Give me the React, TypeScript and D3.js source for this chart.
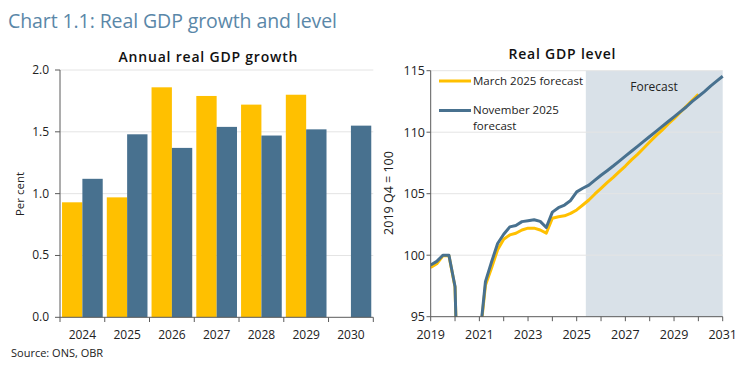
import React from "react";
import * as d3 from "d3";

// ---------- Data ----------
const growthYears = ["2024", "2025", "2026", "2027", "2028", "2029", "2030"];
const growthMarch2025: (number | null)[] = [0.93, 0.97, 1.86, 1.79, 1.72, 1.8, null];
const growthNov2025: number[] = [1.12, 1.48, 1.37, 1.54, 1.47, 1.52, 1.55];
const growthTicks = [0.0, 0.5, 1.0, 1.5, 2.0];

// quarterly GDP level, 2019 Q4 = 100, first point 2019 Q1
const levelStartYear = 2019;
const levelNov2025 = [
  99.2, 99.5, 100.0, 100.0,
  97.45, 79.5, 92.0, 93.2,
  93.0, 97.85, 99.45, 100.95,
  101.7, 102.3, 102.42, 102.73,
  102.8, 102.88, 102.75, 102.25,
  103.5, 103.86, 104.08, 104.45,
  105.15, 105.44, 105.7, 106.1,
  106.5, 106.87, 107.25, 107.65,
  108.05, 108.45, 108.85, 109.25,
  109.65, 110.05, 110.45, 110.85,
  111.25, 111.65, 112.05, 112.5,
  112.9, 113.3, 113.75, 114.15,
  114.55,
];
const levelMarch2025 = [
  99.0, 99.3, 99.95, 99.95,
  97.4, 79.3, 91.8, 93.0,
  92.9, 97.55, 98.95, 100.45,
  101.3, 101.65, 101.78, 102.05,
  102.2, 102.2, 102.05, 101.8,
  103.0, 103.13, 103.2, 103.4,
  103.68, 104.08, 104.49, 104.98,
  105.44, 105.9, 106.33, 106.8,
  107.25, 107.75, 108.2, 108.7,
  109.2, 109.7, 110.15, 110.65,
  111.1, 111.6, 112.1, 112.6,
  113.08,
];
const levelTicks = [95, 100, 105, 110, 115];
const levelYearTicks = [2019, 2020, 2021, 2022, 2023, 2024, 2025, 2026, 2027, 2028, 2029, 2030, 2031];
const levelYearLabels = [2019, 2021, 2023, 2025, 2027, 2029, 2031];
const forecastStart = 2025.375;

// ---------- Style ----------
const YELLOW = "#FFC000";
const BLUE = "#48718F";
const TITLE_BLUE = "#5a87a8";
const SHADE = "#d9e1e8";
const GRID = "#e4e4e4";
const AXIS = "#5a5a5a";
const TEXT = "#222";
const FONT = "'Open Sans', Lato, sans-serif";

export default function App() {
  // Left chart scales
  const lx = d3.scaleBand<string>().domain(growthYears).range([60, 373.3]).paddingInner(0).paddingOuter(0);
  const ly = d3.scaleLinear().domain([0, 2]).range([317.3, 70]);
  const inner = d3.scaleBand<string>().domain(["m", "n"]).range([0, lx.bandwidth()]).paddingOuter(0.1).paddingInner(0);

  // Right chart scales
  const rx = d3.scaleLinear().domain([2019, 2031]).range([430.7, 722.7]);
  const ry = d3.scaleLinear().domain([95, 115]).range([316.7, 70.7]);
  const line = d3
    .line<number>()
    .x((_, i) => rx(levelStartYear + i / 4))
    .y((d) => ry(d));

  return (
    <svg
      width={747}
      height={371}
      style={{ position: "absolute", left: 0, top: 0, background: "#fff" }}
      fontFamily={FONT}
    >
      <defs>
        <clipPath id="rclip">
          <rect x={rx(2019)} y={ry(115) - 3} width={rx(2031) - rx(2019) + 3} height={ry(95) - ry(115) + 3} />
        </clipPath>
      </defs>
      <text x={8} y={28} fontSize={19.5} fill={TITLE_BLUE} textLength={329} lengthAdjust="spacing">
        Chart 1.1: Real GDP growth and level
      </text>

      {/* ---------- Left chart ---------- */}
      <text x={118.5} y={61.5} fontSize={14} fontWeight={600} fill="#111" textLength={179} lengthAdjust="spacing">
        Annual real GDP growth
      </text>
      {growthTicks.map((t) => (
        <g key={"lg" + t}>
          {t > 0 && <line x1={60} x2={373.3} y1={ly(t)} y2={ly(t)} stroke={GRID} strokeWidth={1} />}
          <line x1={55} x2={60} y1={ly(t)} y2={ly(t)} stroke={AXIS} strokeWidth={1} />
          <text x={49} y={ly(t) + 4} fontSize={12} textAnchor="end" fill={TEXT}>
            {t.toFixed(1)}
          </text>
        </g>
      ))}
      {growthYears.map((yr, i) => {
        const x0 = lx(yr)!;
        const m = growthMarch2025[i];
        const n = growthNov2025[i];
        return (
          <g key={yr}>
            {m != null && (
              <rect x={x0 + inner("m")!} y={ly(m)} width={inner.bandwidth()} height={ly(0) - ly(m)} fill={YELLOW} />
            )}
            <rect x={x0 + inner("n")!} y={ly(n)} width={inner.bandwidth()} height={ly(0) - ly(n)} fill={BLUE} />
            <text x={x0 + lx.bandwidth() / 2} y={338.5} fontSize={12} textAnchor="middle" fill={TEXT}>
              {yr}
            </text>
          </g>
        );
      })}
      {[...growthYears.map((y) => lx(y)!), 373.3].map((x, i) => (
        <line key={"lt" + i} x1={x} x2={x} y1={317.3} y2={322} stroke={AXIS} strokeWidth={1} />
      ))}
      <line x1={60} x2={60} y1={70} y2={317.3} stroke={AXIS} strokeWidth={1} />
      <line x1={60} x2={373.3} y1={317.3} y2={317.3} stroke={AXIS} strokeWidth={1} />
      <text transform="translate(24,194) rotate(-90)" fontSize={11.5} textAnchor="middle" fill={TEXT}>
        Per cent
      </text>

      {/* ---------- Right chart ---------- */}
      <rect x={rx(forecastStart)} y={ry(115)} width={rx(2031) - rx(forecastStart)} height={ry(95) - ry(115)} fill={SHADE} />
      <text x={508.5} y={59} fontSize={14} fontWeight={600} fill="#111" textLength={107} lengthAdjust="spacing">
        Real GDP level
      </text>
      {levelTicks.map((t) => (
        <g key={"rg" + t}>
          {t > 95 && <line x1={rx(2019)} x2={rx(2031)} y1={ry(t)} y2={ry(t)} stroke={GRID} strokeWidth={1} />}
          <line x1={426.5} x2={rx(2019)} y1={ry(t)} y2={ry(t)} stroke={AXIS} strokeWidth={1} />
          <text x={425} y={ry(t) + 4.5} fontSize={12.5} textAnchor="end" fill={TEXT}>
            {t}
          </text>
        </g>
      ))}
      <text x={654} y={91} fontSize={12} textAnchor="middle" fill={TEXT}>
        Forecast
      </text>
      <g clipPath="url(#rclip)">
        <path d={line(levelMarch2025) || ""} fill="none" stroke={YELLOW} strokeWidth={3} strokeLinejoin="round" />
        <path d={line(levelNov2025) || ""} fill="none" stroke={BLUE} strokeWidth={3} strokeLinejoin="round" />
      </g>
      {levelYearTicks.map((y) => (
        <line key={"rt" + y} x1={rx(y)} x2={rx(y)} y1={ry(95)} y2={ry(95) + 4.5} stroke={AXIS} strokeWidth={1} />
      ))}
      {levelYearLabels.map((y) => (
        <text key={"rl" + y} x={rx(y)} y={338.5} fontSize={12.5} textAnchor="middle" fill={TEXT}>
          {y}
        </text>
      ))}
      <line x1={rx(2019)} x2={rx(2019)} y1={ry(115)} y2={ry(95)} stroke={AXIS} strokeWidth={1} />
      <line x1={rx(2019)} x2={rx(2031)} y1={ry(95)} y2={ry(95)} stroke={AXIS} strokeWidth={1} />
      <text transform="translate(393,193) rotate(-90)" fontSize={12.5} textAnchor="middle" fill={TEXT}>
        2019 Q4 = 100
      </text>

      {/* Legend */}
      <line x1={439} x2={471} y1={81} y2={81} stroke={YELLOW} strokeWidth={3} />
      <text x={473} y={85} fontSize={11.5} fill={TEXT} textLength={110} lengthAdjust="spacing">
        March 2025 forecast
      </text>
      <line x1={439} x2={471} y1={110.5} y2={110.5} stroke={BLUE} strokeWidth={3} />
      <text x={473} y={114} fontSize={11.5} fill={TEXT}>
        November 2025
      </text>
      <text x={473} y={130} fontSize={11.5} fill={TEXT}>
        forecast
      </text>

      <text x={11} y={356.5} fontSize={11} fill={TEXT}>
        Source: ONS, OBR
      </text>
    </svg>
  );
}
